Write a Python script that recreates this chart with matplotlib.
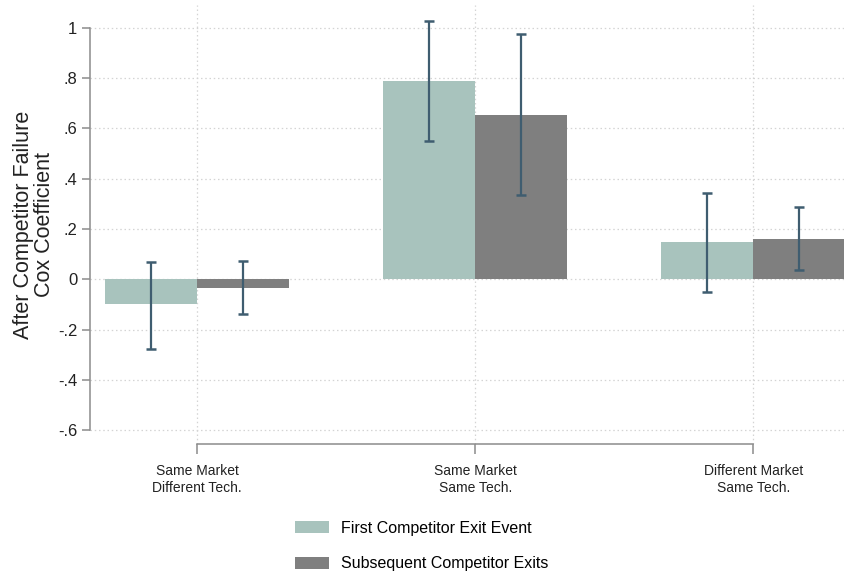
import numpy as np
import matplotlib
matplotlib.use('Agg')
import matplotlib.pyplot as plt

plt.rcParams['font.family'] = ['Liberation Sans', 'DejaVu Sans']

# data
groups = ['Same Market\nDifferent Tech.', 'Same Market\nSame Tech.', 'Different Market\nSame Tech.']
series_names = ['First Competitor Exit Event', 'Subsequent Competitor Exits']
first_coef = [-0.10, 0.786, 0.146]
first_lo = [-0.278, 0.55, -0.052]
first_hi = [0.067, 1.026, 0.343]
subs_coef = [-0.033, 0.653, 0.16]
subs_lo = [-0.139, 0.336, 0.037]
subs_hi = [0.071, 0.973, 0.286]
yticks = [-0.6, -0.4, -0.2, 0, 0.2, 0.4, 0.6, 0.8, 1]
ytick_labels = ['-.6', '-.4', '-.2', '0', '.2', '.4', '.6', '.8', '1']

c_first = '#a8c3bd'
c_subs = '#7f7f7f'
c_err = '#3f5d70'
c_axis = '#8c8c8c'

fig = plt.figure(figsize=(8.45, 5.77), dpi=100)
ax = fig.add_axes([90/845, 133/577, 755/845, 439/577])

x = np.arange(len(groups))
w = 0.33
ax.bar(x - w/2, first_coef, w, color=c_first, label=series_names[0], zorder=2)
ax.bar(x + w/2, subs_coef, w, color=c_subs, label=series_names[1], zorder=2)

# confidence intervals
for xs, lo, hi in [(x - w/2, first_lo, first_hi), (x + w/2, subs_lo, subs_hi)]:
    lo = np.array(lo)
    hi = np.array(hi)
    mid = (lo + hi) / 2
    ax.errorbar(xs, mid, yerr=(hi - lo) / 2, fmt='none', ecolor=c_err,
                elinewidth=1.6, capsize=3.8, capthick=1.8, zorder=3)

ax.set_xlim(-0.385, 2.33)
ax.set_ylim(-0.655, 1.09)

ax.set_yticks(yticks)
ax.set_yticklabels(ytick_labels)
ax.set_xticks(x)
ax.set_xticklabels(groups, linespacing=1.3)

for s in ['top', 'right']:
    ax.spines[s].set_visible(False)
ax.spines['left'].set_bounds(-0.6, 1)
ax.spines['bottom'].set_bounds(0, 2)
for s in ['left', 'bottom']:
    ax.spines[s].set_color(c_axis)
    ax.spines[s].set_linewidth(1.1)

ax.tick_params(axis='y', length=6, width=1.1, color=c_axis, labelsize=12, labelcolor='#222222', pad=3)
ax.tick_params(axis='x', length=7, width=1.1, color=c_axis, labelsize=10, labelcolor='#222222', pad=7.5)

ax.grid(True, which='major', linestyle=(0, (1.2, 2.2)), color='#d4d4d4', linewidth=0.9, zorder=0)
ax.set_axisbelow(True)

ax.set_ylabel('After Competitor Failure\nCox Coefficient', fontsize=15.5, color='#222222',
              linespacing=1.0, labelpad=2)

fig.legend(loc='center left', bbox_to_anchor=(295/845, 31/577), frameon=False, fontsize=11.5,
           borderpad=0, borderaxespad=0, handlelength=2.15, handleheight=0.75,
           handletextpad=0.75, labelspacing=1.3)

fig.savefig('out.png', dpi=100)
